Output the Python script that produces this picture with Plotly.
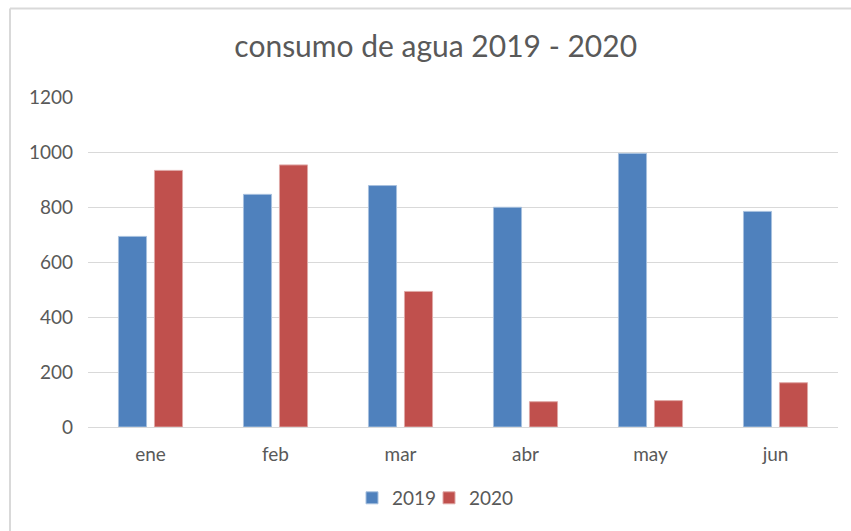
import plotly.graph_objects as go

months = ["ene", "feb", "mar", "abr", "may", "jun"]
series_names = ["2019", "2020"]
values_2019 = [693, 846, 878, 799, 995, 784]
values_2020 = [933, 953, 493, 92, 96, 161]
y_ticks = [0, 200, 400, 600, 800, 1000, 1200]

colors = ["#4F81BD", "#C0504D"]
outlines = ["#A7C0DE", "#DFA8A6"]
legend_ids = ["legend", "legend2"]

fig = go.Figure()
for name, vals, c, oc, lg in zip(series_names, [values_2019, values_2020], colors, outlines, legend_ids):
    fig.add_trace(go.Bar(x=months, y=vals, name=name, legend=lg,
                         marker=dict(color=c, line=dict(color=oc, width=1))))

font_family = "Lato, 'Open Sans', sans-serif"
legend_style = dict(orientation="h", xanchor="left", y=-0.215, yanchor="middle",
                    font=dict(size=19, color="#595959"), itemwidth=30, bgcolor="rgba(0,0,0,0)")
fig.update_layout(
    width=851, height=531,
    margin=dict(l=88, r=13, t=97, b=104, autoexpand=False),
    paper_bgcolor="white", plot_bgcolor="white",
    barmode="group", bargap=0.424, bargroupgap=0.22,
    title=dict(text="consumo de agua 2019 - 2020", x=0.512, xanchor="center", y=0.912, yanchor="middle",
               font=dict(family=font_family, size=30, color="#595959")),
    font=dict(family=font_family, size=19, color="#595959"),
    xaxis=dict(showgrid=False, showline=True, linecolor="#D9D9D9", linewidth=1, ticks="",
               ticklabelstandoff=10, automargin=False,
               tickfont=dict(size=19, color="#595959")),
    yaxis=dict(range=[0, 1200], tickvals=y_ticks, showgrid=True, gridcolor="#D9D9D9", gridwidth=1,
               zeroline=False, ticks="", ticklabelstandoff=14, automargin=False,
               tickfont=dict(size=19, color="#595959")),
    legend=dict(x=0.352, **legend_style),
    legend2=dict(x=0.4547, **legend_style),
    showlegend=True,
)
fig.add_shape(type="line", xref="paper", yref="paper", x0=-0.104, x1=1.1, y0=1.268, y1=1.268,
              line=dict(color="#D9D9D9", width=2))
fig.add_shape(type="line", xref="paper", yref="paper", x0=-0.104, x1=-0.104, y0=1.268, y1=-0.5,
              line=dict(color="#D9D9D9", width=2))
fig.write_html("out.html", config={"displayModeBar": False},
               post_script="document.body.style.margin='0px';")
